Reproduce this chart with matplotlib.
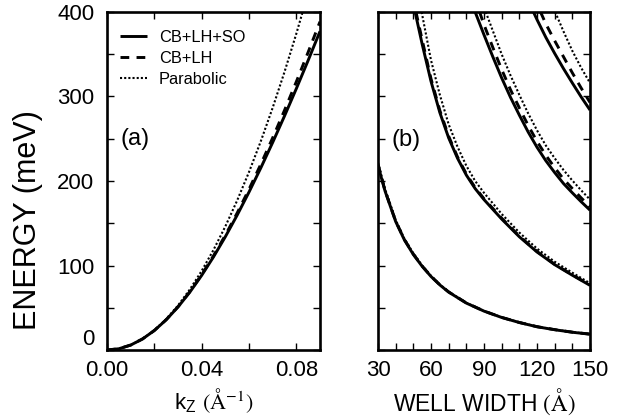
"""Subband energies: (a) dispersion vs k_z, (b) levels vs well width.

Three models compared: CB+LH+SO (solid), CB+LH (dashed), parabolic (dotted).
Values read off the reference figure.
"""
import matplotlib
matplotlib.use("Agg")
import matplotlib.pyplot as plt
from matplotlib.ticker import MultipleLocator, FormatStrFormatter

plt.rcParams["font.family"] = ["Liberation Sans", "DejaVu Sans"]
plt.rcParams["mathtext.fontset"] = "stix"

# ---- (a) energy vs k_z ----
K_A = [0.0, 0.005, 0.01, 0.015, 0.02, 0.025, 0.03, 0.035, 0.04, 0.045,
       0.05, 0.055, 0.06, 0.065, 0.07, 0.075, 0.08, 0.085, 0.09]
E_SO = [0.0, 1.46, 5.83, 13.05, 23.04, 35.70, 50.89, 68.47, 88.30, 110.20,
        134.03, 159.63, 186.86, 215.56, 245.62, 276.92, 309.33, 342.77, 377.13]
E_LH = [0.0, 1.46, 5.83, 13.07, 23.10, 35.84, 51.17, 68.97, 89.11, 111.45,
        135.83, 162.11, 190.17, 219.85, 251.04, 283.61, 317.46, 352.47, 388.55]
E_PAR = [0.0, 1.46, 5.85, 13.16, 23.40, 36.56, 52.65, 71.66, 93.60, 118.46,
         146.25, 176.96, 210.60, 247.16, 286.65, 329.06, 374.40, 422.66, 473.85]

# ---- (b) levels vs well width: (width, energy) per level and model ----
L1 = [30, 32, 34, 40, 45, 50, 55, 60, 65, 70, 80, 90, 100, 110, 120, 130, 140, 150]
E1_SO = [219, 203, 188, 152, 130, 113, 99, 87, 77, 68.5, 55.5, 46, 38.5, 32.5, 27.5, 24, 21, 18.7]
E1_LH = [220, 204, 188.5, 152.5, 130.5, 113.5, 99.3, 87.3, 77.2, 68.7, 55.7, 46.1, 38.6, 32.6,
         27.6, 24.1, 21.1, 18.8]
E1_PAR = [222, 206, 190.5, 154, 131.5, 114.5, 100, 87.8, 77.6, 69, 55.9, 46.3, 38.8, 32.7,
          27.7, 24.2, 21.2, 18.9]

L2_SO = [51, 55, 60, 65, 70, 75, 80, 85, 90, 100, 110, 120, 130, 140, 150]
E2_SO = [400, 362, 318, 281, 251, 227, 207, 191, 178, 155, 134, 116, 101, 88.5, 76.5]
L2_LH = [51.5, 55, 60, 65, 70, 75, 80, 85, 90, 100, 110, 120, 130, 140, 150]
E2_LH = [400, 367, 321, 283.5, 253, 228.5, 208.3, 192.2, 179, 156, 134.8, 116.6, 101.5, 89, 77]
L2_PAR = [54.7, 60, 65, 70, 75, 80, 85, 90, 100, 110, 120, 130, 140, 150]
E2_PAR = [400, 343, 302, 267, 240.5, 218, 200, 186, 161, 139, 120, 104.5, 91.5, 79]

L3_SO = [85, 90, 95, 100, 105, 110, 115, 120, 125, 130, 135, 140, 145, 150]
E3_SO = [400, 373, 347, 322, 299, 278, 258, 240, 224, 210, 197, 186, 175.5, 165.5]
L3_LH = [87.5, 90, 95, 100, 105, 110, 115, 120, 125, 130, 135, 140, 145, 150]
E3_LH = [400, 385, 358, 332, 308, 286.5, 265.7, 247, 230.4, 215.8, 202.3, 191, 180, 169.6]
L3_PAR = [91, 95, 100, 105, 110, 115, 120, 125, 130, 135, 140, 145, 150]
E3_PAR = [400, 377.7, 350, 325, 302, 280, 260, 242, 227, 213, 200.6, 189, 178]

L4_SO = [118, 120, 125, 130, 135, 140, 145, 150]
E4_SO = [400, 391, 370, 351, 333, 316, 299.5, 284]
L4_LH = [122, 125, 130, 135, 140, 145, 150]
E4_LH = [400, 386, 366, 347, 328, 310, 293]
L4_PAR = [130.3, 135, 140, 145, 150]
E4_PAR = [400, 377, 354, 334, 316]

LEVELS = [(L1, E1_SO, L1, E1_LH, L1, E1_PAR),
          (L2_SO, E2_SO, L2_LH, E2_LH, L2_PAR, E2_PAR),
          (L3_SO, E3_SO, L3_LH, E3_LH, L3_PAR, E3_PAR),
          (L4_SO, E4_SO, L4_LH, E4_LH, L4_PAR, E4_PAR)]

SOLID = dict(color="black", lw=2.1, ls="-", solid_capstyle="butt")
DASH = dict(color="black", lw=2.1, ls=(0, (3.0, 2.5)))
DOT = dict(color="black", lw=1.5, ls=(0, (1.0, 1.0)))

fig = plt.figure(figsize=(6.26, 4.19), dpi=100)
axa = fig.add_axes([107/626, 1-350/419, 213/626, 338/419])
axb = fig.add_axes([378/626, 1-350/419, 212/626, 338/419])

def style(ax):
    for s in ax.spines.values():
        s.set_linewidth(1.9)
    ax.tick_params(which="both", direction="in", top=True, right=True,
                   length=5, width=1.0, labelsize=16)
    ax.tick_params(axis="x", pad=7)
    ax.tick_params(axis="y", pad=9)
    ax.set_ylim(0, 400)
    ax.yaxis.set_major_locator(MultipleLocator(100))
    ax.yaxis.set_minor_locator(MultipleLocator(50))

# (a)
axa.plot(K_A, E_PAR, **DOT, label="Parabolic")
axa.plot(K_A, E_LH, **DASH, label="CB+LH")
axa.plot(K_A, E_SO, **SOLID, label="CB+LH+SO")
axa.set_xlim(0, 0.09)
style(axa)
axa.xaxis.set_major_locator(MultipleLocator(0.04))
axa.xaxis.set_minor_locator(MultipleLocator(0.02))
axa.xaxis.set_major_formatter(FormatStrFormatter("%.2f"))
axa.set_xlabel(r"k$_\mathregular{Z}$ $(\mathrm{\AA}^{-1})$", fontsize=16, labelpad=4)
axa.set_ylabel("ENERGY (meV)", fontsize=22)
axa.yaxis.set_label_coords(-0.30, 0.385)
axa.text(0.012, 250, "(a)", fontsize=17, ha="center", va="center")
h, lab = axa.get_legend_handles_labels()
axa.legend(h[::-1], lab[::-1], loc="upper left", bbox_to_anchor=(-0.01, 0.99),
           frameon=False, fontsize=11.8, handlelength=1.7, handletextpad=0.7,
           labelspacing=0.35, borderpad=0.4)

# (b)
for ls_, es, ll, el, lp, ep in LEVELS:
    axb.plot(lp, ep, **DOT)
    axb.plot(ll, el, **DASH)
    axb.plot(ls_, es, **SOLID)
axb.set_xlim(30, 150)
style(axb)
axb.xaxis.set_major_locator(MultipleLocator(30))
axb.xaxis.set_minor_locator(MultipleLocator(10))
axb.tick_params(axis="y", which="both", labelleft=False)
axb.set_xlabel(r"WELL WIDTH $(\mathrm{\AA})$", fontsize=16.5, labelpad=4)
axb.text(46, 248, "(b)", fontsize=17, ha="center", va="center")

# lift the "0" energy label off the k axis labels, as in the original
fig.canvas.draw()
for lbl in axa.get_yticklabels():
    if lbl.get_text() == "0":
        lbl.set_verticalalignment("bottom")

fig.savefig("out.png", dpi=100)
